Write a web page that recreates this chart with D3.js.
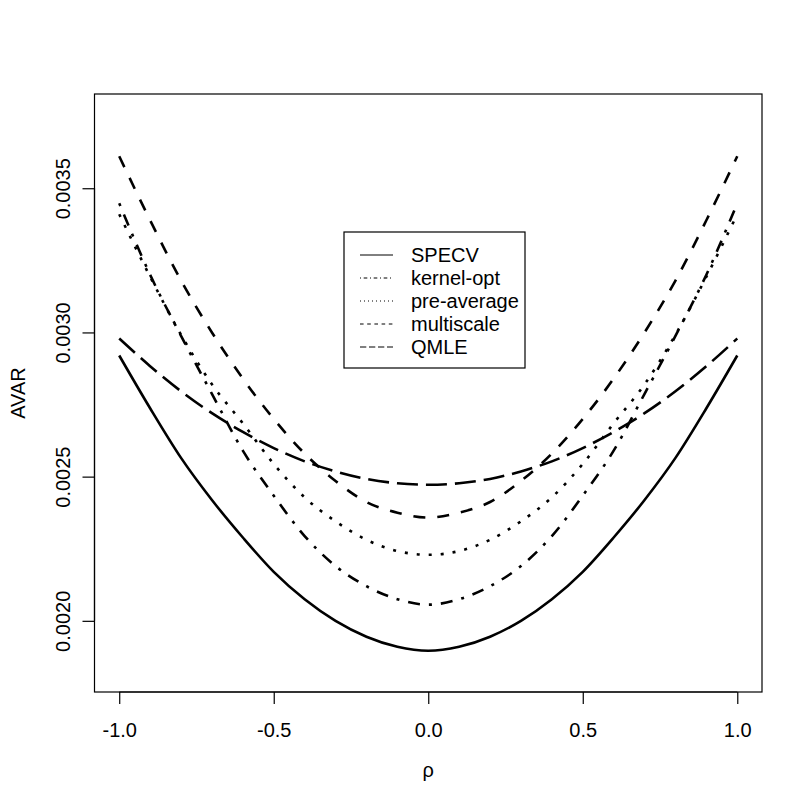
<!DOCTYPE html>
<html>
<head>
<meta charset="utf-8">
<script src="https://cdn.jsdelivr.net/npm/d3@7"></script>
<style>
  body { margin: 0; background: #fff; }
  text { font-family: "Liberation Sans", Arial, sans-serif; fill: #000; }
</style>
</head>
<body>
<svg id="chart" width="811" height="810"></svg>
<script>
// rho grid (x axis)
const rho = [-1.0, -0.9, -0.8, -0.7, -0.6, -0.5, -0.4, -0.3, -0.2, -0.1, 0.0,
             0.1, 0.2, 0.3, 0.4, 0.5, 0.6, 0.7, 0.8, 0.9, 1.0];

// AVAR of each estimator
const specv      = [0.002920, 0.002737, 0.002565, 0.002419, 0.002289, 0.002170, 0.002075, 0.002000, 0.001945, 0.001910, 0.001896,
                    0.001910, 0.001945, 0.002000, 0.002075, 0.002170, 0.002289, 0.002419, 0.002565, 0.002737, 0.002920];
const kernelOpt  = [0.003448, 0.003200, 0.002988, 0.002787, 0.002590, 0.002434, 0.002294, 0.002190, 0.002120, 0.002075, 0.002056,
                    0.002075, 0.002120, 0.002190, 0.002294, 0.002434, 0.002590, 0.002787, 0.002988, 0.003200, 0.003448];
const preAverage = [0.003410, 0.003193, 0.002992, 0.002820, 0.002685, 0.002544, 0.002428, 0.002345, 0.002281, 0.002242, 0.002229,
                    0.002242, 0.002281, 0.002345, 0.002428, 0.002544, 0.002685, 0.002820, 0.002992, 0.003193, 0.003410];
const multiscale = [0.003611, 0.003389, 0.003180, 0.003000, 0.002840, 0.002700, 0.002580, 0.002485, 0.002412, 0.002375, 0.002358,
                    0.002375, 0.002412, 0.002485, 0.002580, 0.002700, 0.002840, 0.003000, 0.003180, 0.003389, 0.003611];
const qmle       = [0.002979, 0.002883, 0.002796, 0.002720, 0.002655, 0.002599, 0.002553, 0.002518, 0.002492, 0.002477, 0.002472,
                    0.002477, 0.002492, 0.002518, 0.002553, 0.002599, 0.002655, 0.002720, 0.002796, 0.002883, 0.002979];

const seriesNames = ['SPECV', 'kernel-opt', 'pre-average', 'multiscale', 'QMLE'];
const xTicks = [-1.0, -0.5, 0.0, 0.5, 1.0];
const yTicks = [0.0020, 0.0025, 0.0030, 0.0035];
const xLim = [-1, 1];
const yLim = [0.00183, 0.00375];

// R style line types: plot (lwd 2) and legend (thin)
const dashPlot   = ['none', '3,9,12,9', '3,9', '12,12', '21,8'];
const dashLegend = ['none', '1,2.7,3.6,2.7', '1,3', '3.6,3.6', '6.3,2.7'];

const series = [specv, kernelOpt, preAverage, multiscale, qmle];

// plot region (R's box)
const boxLeft = 94.5, boxRight = 762, boxTop = 94, boxBottom = 692;
const fontSize = '20px';

// R extends the axis range by 4%
function extend(lim) {
  const d = (lim[1] - lim[0]) * 0.04;
  return [lim[0] - d, lim[1] + d];
}

const x = d3.scaleLinear().domain(extend(xLim)).range([boxLeft, boxRight]);
const y = d3.scaleLinear().domain(extend(yLim)).range([boxBottom, boxTop]);

const svg = d3.select('#chart');

// curves
const line = d3.line()
  .x(function(d, i) { return x(rho[i]); })
  .y(function(d) { return y(d); })
  .curve(d3.curveMonotoneX);

svg.append('g')
  .selectAll('path')
  .data(series)
  .enter()
  .append('path')
  .attr('d', function(d) { return line(d); })
  .attr('fill', 'none')
  .attr('stroke', '#000')
  .attr('stroke-width', 2.6)
  .attr('stroke-linecap', 'butt')
  .attr('stroke-dasharray', function(d, i) { return dashPlot[i]; });

// box
svg.append('rect')
  .attr('x', boxLeft).attr('y', boxTop)
  .attr('width', boxRight - boxLeft).attr('height', boxBottom - boxTop)
  .attr('fill', 'none').attr('stroke', '#000').attr('stroke-width', 1.2);

// x axis
const xAxis = svg.append('g')
  .attr('transform', 'translate(0,' + boxBottom + ')')
  .call(d3.axisBottom(x).tickValues(xTicks).tickSize(12).tickFormat(d3.format('.1f')));
xAxis.select('.domain')
  .attr('d', 'M' + x(xTicks[0]) + ',0H' + x(xTicks[xTicks.length - 1]))
  .attr('stroke-width', 1.2);
xAxis.selectAll('.tick line').attr('stroke-width', 1.2);
xAxis.selectAll('.tick text')
  .attr('y', 45).attr('dy', null)
  .style('font-size', fontSize)
  .text(function(d) { return d3.format('.1f')(d).replace('\u2212', '-'); });

// y axis
const yAxis = svg.append('g')
  .attr('transform', 'translate(' + boxLeft + ',0)')
  .call(d3.axisLeft(y).tickValues(yTicks).tickSize(12).tickFormat(d3.format('.4f')));
yAxis.select('.domain')
  .attr('d', 'M0,' + y(yTicks[0]) + 'V' + y(yTicks[yTicks.length - 1]))
  .attr('stroke-width', 1.2);
yAxis.selectAll('.tick line').attr('stroke-width', 1.2);
yAxis.selectAll('.tick text')
  .attr('x', null).attr('dy', null)
  .attr('text-anchor', 'middle')
  .attr('transform', 'translate(-25,0) rotate(-90)')
  .style('font-size', fontSize);

// axis titles
svg.append('text')
  .attr('x', (boxLeft + boxRight) / 2).attr('y', 777)
  .attr('text-anchor', 'middle')
  .style('font-size', fontSize)
  .text('ρ');

svg.append('text')
  .attr('transform', 'translate(25,' + (boxTop + boxBottom) / 2 + ') rotate(-90)')
  .attr('text-anchor', 'middle')
  .style('font-size', fontSize)
  .text('AVAR');

// legend
const legend = svg.append('g');
legend.append('rect')
  .attr('x', 344).attr('y', 232)
  .attr('width', 181).attr('height', 136)
  .attr('fill', '#fff').attr('stroke', '#000').attr('stroke-width', 1.2);

const rows = legend.selectAll('g.row')
  .data(seriesNames)
  .enter()
  .append('g')
  .attr('class', 'row')
  .attr('transform', function(d, i) { return 'translate(0,' + (255 + i * 23) + ')'; });

rows.append('line')
  .attr('x1', 360).attr('x2', 393)
  .attr('stroke', '#000').attr('stroke-width', 1)
  .attr('stroke-dasharray', function(d, i) { return dashLegend[i]; });

rows.append('text')
  .attr('x', 411).attr('y', 7)
  .style('font-size', fontSize)
  .text(function(d) { return d; });
</script>
</body>
</html>
